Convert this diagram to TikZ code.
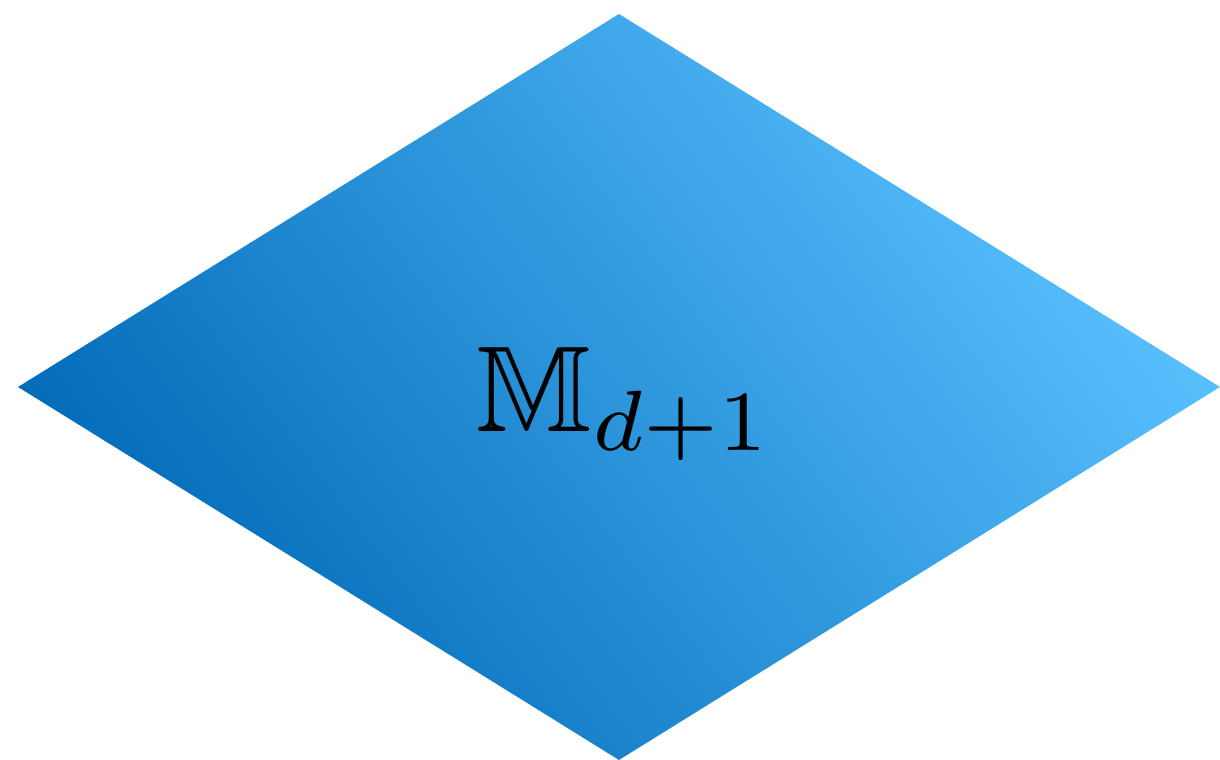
\documentclass[tikz,border=0pt]{standalone}
\usepackage{amsmath,amssymb}
\definecolor{deepblue}{HTML}{006AB8}
\definecolor{skyblue}{HTML}{5AC2FF}
\usetikzlibrary{calc}

\begin{document}
\begin{tikzpicture}
  \useasboundingbox (0,0) rectangle (12.2,7.6);
  % rhombus
  \coordinate (top) at (6.19,7.46);
  \coordinate (lft) at (0.18,3.73);
  \coordinate (rgt) at (12.2,3.73);
  \coordinate (bot) at (6.19,0);
  \shade[left color=deepblue,right color=skyblue,shading angle=127]
    (top) -- (rgt) -- (bot) -- (lft) -- cycle;
  % label
  \node[anchor=base,scale=3.48,inner sep=0pt] (lbl) at (6.25,3.28) {$\mathbb{M}_{d+1}$};
\end{tikzpicture}
\end{document}
